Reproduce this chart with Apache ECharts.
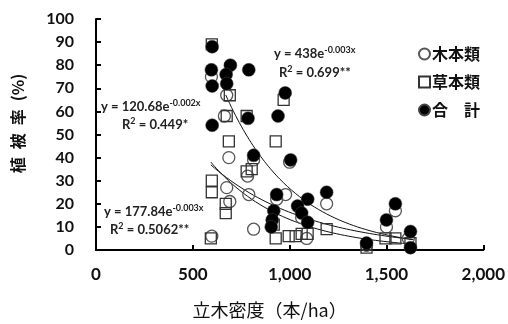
<!DOCTYPE html>
<html>
<head>
<meta charset="utf-8">
<script src="https://cdn.jsdelivr.net/npm/echarts@6/dist/echarts.min.js"></script>
<style>
html,body{margin:0;padding:0;background:#fff;}
#c{width:508px;height:324px;}
</style>
</head>
<body>
<div id="c"></div>
<script>
// ---- data ----
var seriesNames = ['木本類', '草本類', '合　計'];

var woodyX = [596, 675, 663, 686, 783, 675, 789, 691, 814, 598, 814, 1000, 979, 933, 1191, 1088, 1546, 1500, 1613, 1062, 1397];
var woodyY = [75, 67, 58, 40, 32, 27, 24, 21, 9, 6, 39, 38, 24, 22, 20, 5, 17, 10, 5, 14, 2];

var herbX = [598, 691, 675, 778, 969, 928, 686, 778, 804, 598, 598, 670, 670, 593, 918, 928, 995, 1031, 1062, 1093, 1191, 1495, 1546, 1624, 1397];
var herbY = [89, 67, 58, 58, 65, 47, 47, 34, 35, 30, 25, 20, 16, 5, 11, 5, 6, 6, 7, 7, 9, 5, 5, 3, 1];

var totalX = [600, 596, 600, 694, 789, 672, 675, 977, 940, 785, 600, 814, 1005, 933, 918, 910, 905, 1191, 1093, 1041, 1062, 1093, 1546, 1500, 1624, 1397, 1624];
var totalY = [88, 78, 71, 80, 78, 76, 72, 68, 58, 57, 54, 41, 39, 24, 17, 13, 10, 25, 22, 19, 16, 12, 20, 13, 8, 3, 1];

// fitted curves y = a*exp(-b*x) (coefficients as drawn), x range
var fitA = [438, 120.68, 177.84];
var fitB = [0.0028, 0.002, 0.0026];
var fitStart = [670, 593, 593];
var fitEnd = [1640, 1640, 1640];

var xTicks = [0, 500, 1000, 1500, 2000];
var yTicks = [0, 10, 20, 30, 40, 50, 60, 70, 80, 90, 100];

// ---- build ----
function pairs(xs, ys) { return xs.map(function (x, i) { return [x, ys[i]]; }); }
function curve(k) {
  var pts = [];
  for (var x = fitStart[k]; x <= fitEnd[k]; x += 10) pts.push([x, fitA[k] * Math.exp(-fitB[k] * x)]);
  return pts;
}

var chart = echarts.init(document.getElementById('c'), null, {renderer: 'canvas'});
var numFont = 'Lato, "Open Sans", sans-serif';
var cjk = '"Noto Sans CJK JP", sans-serif';

var fitSeries = [0, 1, 2].map(function (k) {
  return {
    type: 'line', data: curve(k), showSymbol: false, symbol: 'none', silent: true,
    lineStyle: {color: '#111', width: 1}, z: 1
  };
});

var rich = {
  m: {fontFamily: numFont, fontWeight: 'bold', fontSize: 13, fill: '#222'},
  s: {fontFamily: numFont, fontWeight: 'bold', fontSize: 9, fill: '#222', verticalAlign: 'top', padding: [0, 0, 6, 0]}
};
function richText(x, y, t) {
  return {type: 'text', left: x, top: y, z: 10, style: {text: t, rich: rich}};
}

chart.setOption({
  animation: false,
  backgroundColor: '#fff',
  grid: {left: 96, right: 23, top: 19, bottom: 70},
  legend: {
    orient: 'vertical', left: 413, top: 41, itemGap: 12,
    itemWidth: 11, itemHeight: 11,
    data: [
      {name: seriesNames[0], icon: 'circle'},
      {name: seriesNames[1], icon: 'rect'},
      {name: seriesNames[2], icon: 'circle'}
    ],
    textStyle: {fontFamily: cjk, fontWeight: 'bold', fontSize: 16, color: '#111', padding: [0, 0, 0, -3]}
  },
  xAxis: {
    type: 'value', min: xTicks[0], max: xTicks[xTicks.length - 1], interval: 500,
    axisLine: {lineStyle: {color: '#000', width: 2}},
    axisTick: {show: true, inside: true, length: 5, lineStyle: {color: '#000', width: 2}},
    splitLine: {show: false},
    axisLabel: {
      margin: 16, fontFamily: numFont, fontWeight: 'bold', fontSize: 17, color: '#111',
      formatter: function (v) { return v.toString().replace(/\B(?=(\d{3})+(?!\d))/g, ','); }
    },
    name: '立木密度（本/ha）', nameLocation: 'middle', nameGap: 51,
    nameTextStyle: {fontFamily: cjk, fontSize: 18, color: '#111', padding: [0, 40, 0, 0]}
  },
  yAxis: {
    type: 'value', min: yTicks[0], max: yTicks[yTicks.length - 1], interval: 10,
    axisLine: {show: true, lineStyle: {color: '#000', width: 2}},
    axisTick: {show: true, inside: true, length: 5, lineStyle: {color: '#000', width: 2}},
    splitLine: {show: false},
    axisLabel: {margin: 22, fontFamily: numFont, fontWeight: 'bold', fontSize: 16, color: '#111'},
    name: '植\u2002被\u2002率\u2002(%)', nameLocation: 'middle', nameRotate: 90, nameGap: 70,
    nameTextStyle: {fontFamily: cjk, fontWeight: 'bold', fontSize: 16, color: '#111', padding: [0, 0, 0, 22]}
  },
  series: [
    {
      name: seriesNames[0], type: 'scatter', data: pairs(woodyX, woodyY),
      symbol: 'circle', symbolSize: 12, z: 2,
      itemStyle: {color: 'rgba(255,255,255,0)', borderColor: '#555', borderWidth: 1.3, opacity: 1}
    },
    {
      name: seriesNames[1], type: 'scatter', data: pairs(herbX, herbY),
      symbol: 'rect', symbolSize: 11, z: 3,
      itemStyle: {color: 'rgba(255,255,255,0)', borderColor: '#333', borderWidth: 1.3, opacity: 1}
    },
    {
      name: seriesNames[2], type: 'scatter', data: pairs(totalX, totalY),
      symbol: 'circle', symbolSize: 13, z: 4,
      itemStyle: {color: '#000', borderColor: '#444', borderWidth: 0.5, opacity: 1}
    }
  ].concat(fitSeries),
  graphic: [
    richText(274, 46, '{m|y = 438e}{s|-0.003x}'),
    richText(279, 65, '{m|R}{s|2}{m| = 0.699**}'),
    richText(101, 99, '{m|y = 120.68e}{s|-0.002x}'),
    richText(122, 117, '{m|R}{s|2}{m| = 0.449*}'),
    richText(104, 204, '{m|y = 177.84e}{s|-0.003x}'),
    richText(110, 222, '{m|R}{s|2}{m| = 0.5062**}')
  ]
});
</script>
</body>
</html>
